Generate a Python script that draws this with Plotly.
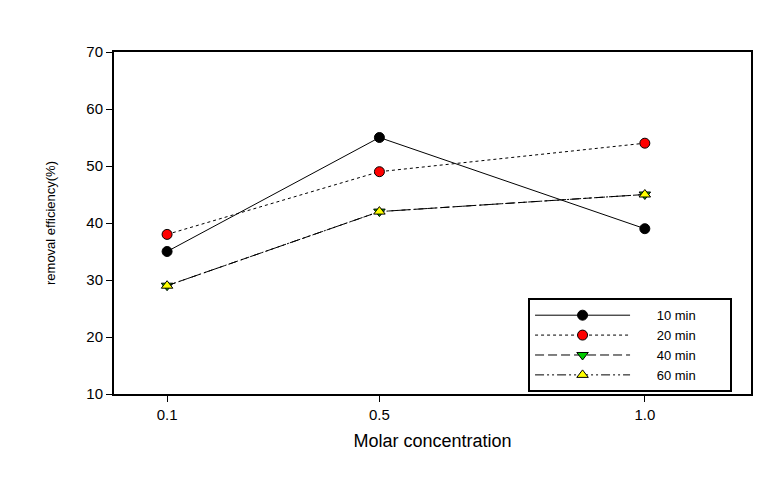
import plotly.graph_objects as go

x_conc = [0.1, 0.5, 1.0]
series_names = ["10 min", "20 min", "40 min", "60 min"]
y_10min = [35, 55, 39]
y_20min = [38, 49, 54]
y_40min = [29, 42, 45]
y_60min = [29, 42, 45]
x_ticks = [0.1, 0.5, 1.0]
x_tick_labels = ["0.1", "0.5", "1.0"]
y_ticks = [10, 20, 30, 40, 50, 60, 70]

styles = [
    dict(dash="solid", symbol="circle", color="black"),
    dict(dash="dot", symbol="circle", color="red"),
    dict(dash="9px,4px", symbol="triangle-down", color="#00cc00"),
    dict(dash="9px,3px,2px,3px,2px,3px", symbol="triangle-up", color="#ffff00"),
]

NBSP = "\u00a0"

fig = go.Figure()
for name, ys, st in zip(series_names, [y_10min, y_20min, y_40min, y_60min], styles):
    fig.add_trace(go.Scatter(
        x=x_conc, y=ys, name=NBSP * 6 + name + NBSP * 8, mode="lines+markers",
        line=dict(color="black", width=1, dash=st["dash"]),
        marker=dict(symbol=st["symbol"], size=10, color=st["color"],
                    line=dict(color="black", width=1)),
    ))

fam = "Liberation Sans, Arial, sans-serif"

# the page body adds an 8px offset, so the figure is 8px smaller and margins shifted
fig.update_layout(
    width=764, height=480,
    margin=dict(l=106, r=21, t=44, b=94, autoexpand=False),
    paper_bgcolor="white", plot_bgcolor="white",
    font=dict(family=fam, size=15, color="black"),
    showlegend=True,
    legend=dict(
        x=0.65, y=0.28, xanchor="left", yanchor="top",
        bordercolor="black", borderwidth=2, bgcolor="white",
        font=dict(family=fam, size=13, color="black"),
        itemwidth=95, tracegroupgap=0,
    ),
    xaxis=dict(
        range=[0, 1.2], tickvals=x_ticks, ticktext=x_tick_labels,
        showgrid=False, zeroline=False,
        showline=True, linecolor="black", linewidth=2, mirror=True,
        ticks="outside", ticklen=6, tickwidth=1, tickcolor="black",
        title=dict(text="Molar concentration", font=dict(size=18), standoff=12),
    ),
    yaxis=dict(
        range=[10, 70], tickvals=y_ticks,
        showgrid=False, zeroline=False,
        showline=True, linecolor="black", linewidth=2, mirror=True,
        ticks="outside", ticklen=6, tickwidth=1, tickcolor="black",
        title=dict(text="removal efficiency(%)", font=dict(size=13), standoff=28),
    ),
)

fig.write_html("out.html")
